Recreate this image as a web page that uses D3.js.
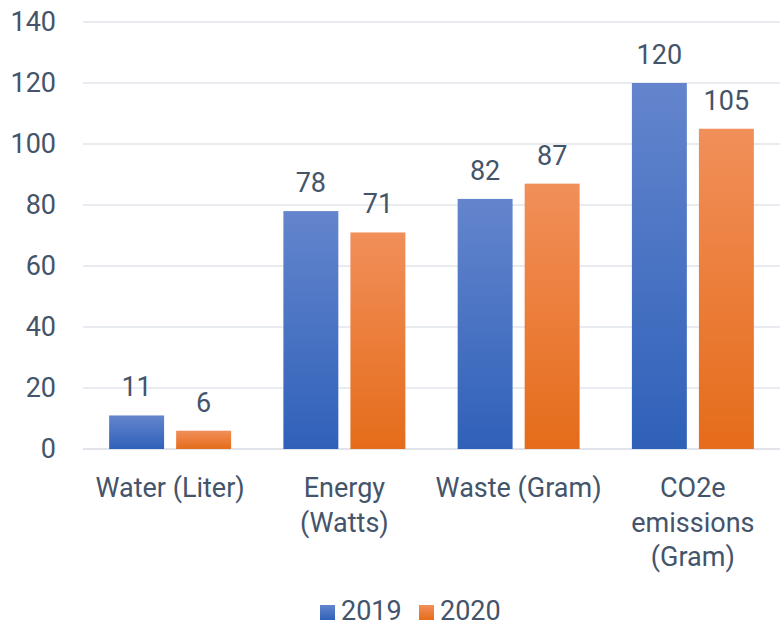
<!DOCTYPE html>
<html>
<head>
<meta charset="utf-8">
<script src="https://cdn.jsdelivr.net/npm/d3@7"></script>
<style>
  body { margin: 0; background: #fff; }
  svg text { font-family: Roboto, "Noto Sans", sans-serif; fill: #44546A; }
</style>
</head>
<body>
<svg id="chart"></svg>
<script>
// data
const categories = ["Water (Liter)", "Energy (Watts)", "Waste (Gram)", "CO2e emissions (Gram)"];
const labelLines = [["Water (Liter)"], ["Energy", "(Watts)"], ["Waste (Gram)"], ["CO2e", "emissions", "(Gram)"]];
const years = ["2019", "2020"];
const values2019 = [11, 78, 82, 120];
const values2020 = [6, 71, 87, 105];
const yTicks = [0, 20, 40, 60, 80, 100, 120, 140];

const width = 780, height = 626;
const plotLeft = 83, plotRight = 780, plotTop = 22, plotBottom = 449;
const fontSize = "27px";

const svg = d3.select("#chart").attr("width", width).attr("height", height);

// gradients per series
const defs = svg.append("defs");
const grads = [
  { id: "g2019", top: "#6485CD", bottom: "#2F61B9" },
  { id: "g2020", top: "#F18F5A", bottom: "#E56C1A" }
];
for (let g of grads) {
  const lg = defs.append("linearGradient").attr("id", g.id)
    .attr("x1", 0).attr("y1", 0).attr("x2", 0).attr("y2", 1);
  lg.append("stop").attr("offset", "0%").attr("stop-color", g.top);
  lg.append("stop").attr("offset", "100%").attr("stop-color", g.bottom);
}

const x = d3.scaleBand().domain(categories).range([plotLeft, plotRight]).paddingInner(0).paddingOuter(0);
const xs = d3.scaleBand().domain(years).range([0, x.bandwidth()]).paddingInner(0.18).paddingOuter(0.39);
const y = d3.scaleLinear().domain([0, 140]).range([plotBottom, plotTop]);

// grid lines
svg.append("g").selectAll("line")
  .data(yTicks)
  .enter().append("line")
  .attr("x1", plotLeft).attr("x2", plotRight)
  .attr("y1", d => y(d)).attr("y2", d => y(d))
  .attr("stroke", "#E1E4EA").attr("stroke-width", d => d === 0 ? 2 : 1.3);

// y axis labels
const axisY = d3.axisLeft(y).tickValues(yTicks).tickSize(0).tickPadding(0);
const gy = svg.append("g").attr("transform", `translate(56,0)`).call(axisY);
gy.select(".domain").remove();
gy.selectAll("text").style("font-size", fontSize).attr("fill", "#44546A")
  .style("font-family", "Roboto, sans-serif");

// bars
const series = [values2019, values2020];
series.forEach((vals, si) => {
  const g = svg.append("g");
  g.selectAll("rect")
    .data(vals)
    .enter().append("rect")
    .attr("x", (d, i) => x(categories[i]) + xs(years[si]))
    .attr("width", xs.bandwidth())
    .attr("y", d => y(d))
    .attr("height", d => y(0) - y(d))
    .attr("fill", `url(#${grads[si].id})`);
  g.selectAll("text")
    .data(vals)
    .enter().append("text")
    .attr("x", (d, i) => x(categories[i]) + xs(years[si]) + xs.bandwidth() / 2)
    .attr("y", d => y(d) - 19)
    .attr("text-anchor", "middle")
    .style("font-size", fontSize)
    .text(d => d);
});

// category labels
const gx = svg.append("g");
categories.forEach((c, i) => {
  const t = gx.append("text")
    .attr("text-anchor", "middle")
    .style("font-size", fontSize);
  labelLines[i].forEach((ln, j) => {
    t.append("tspan")
      .attr("x", x(c) + x.bandwidth() / 2)
      .attr("y", 497 + j * 34.5)
      .text(ln);
  });
});

// legend
const legendX = [320, 419];
const leg = svg.append("g");
years.forEach((yr, i) => {
  leg.append("rect")
    .attr("x", legendX[i]).attr("y", 605)
    .attr("width", 15).attr("height", 15)
    .attr("fill", `url(#${grads[i].id})`);
  leg.append("text")
    .attr("x", legendX[i] + 21).attr("y", 620)
    .style("font-size", fontSize)
    .text(yr);
});
</script>
</body>
</html>
